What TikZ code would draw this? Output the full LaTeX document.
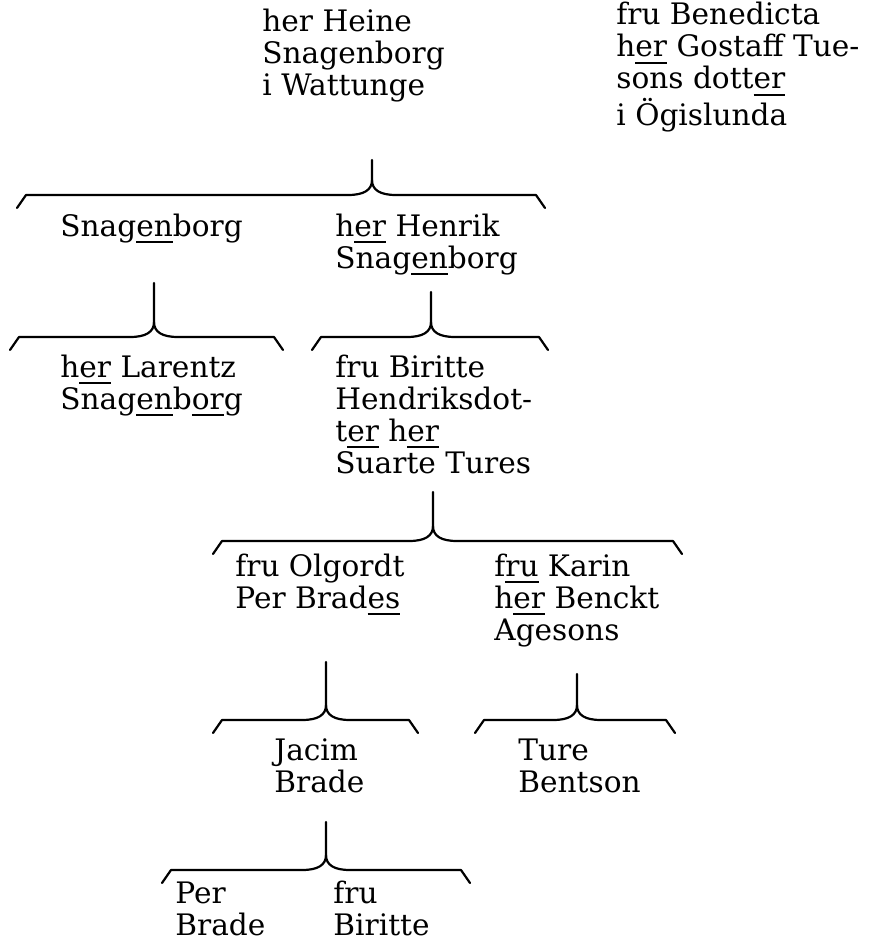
\documentclass[tikz,border=0pt]{standalone}
\usepackage{fontspec}
\setmainfont{DejaVu Serif}
\usepackage{tikz}
\usetikzlibrary{positioning,calc}

% underlined letters as in the typed original
\newsavebox{\undrbox}
\newcommand{\undr}[1]{\sbox{\undrbox}{#1}\rlap{\rule[-3.6pt]{\wd\undrbox}{1.1pt}}\usebox{\undrbox}}

% family brace: name, stem x, stem top, brace y, left end, right end
\newcommand{\kinbrace}[6]{%
  \coordinate (#1-top) at (#2,#3);
  \coordinate (#1-mid) at (#2,#4);
  \coordinate (#1-l) at (#5,#4);
  \coordinate (#1-r) at (#6,#4);
  \draw[kinline] (#1-top) -- ($(#1-mid)+(0,-15)$)
    .. controls ($(#1-mid)+(0,-5)$) and ($(#1-mid)+(-8,0)$) .. ($(#1-mid)+(-24,0)$)
    -- ($(#1-l)+(9,0)$) -- ($(#1-l)+(0,13)$);
  \draw[kinline] ($(#1-mid)+(0,-15)$)
    .. controls ($(#1-mid)+(0,-5)$) and ($(#1-mid)+(8,0)$) .. ($(#1-mid)+(24,0)$)
    -- ($(#1-r)+(-9,0)$) -- ($(#1-r)+(0,13)$);
}

% nodes are placed at the baseline of their last line
\tikzset{
  person/.style={anchor=base west, align=left, inner sep=0pt,
    font=\fontsize{14.8}{16}\selectfont},
  kinline/.style={line width=1.1pt, line join=round, line cap=round}
}

\begin{document}
\begin{tikzpicture}[x=0.5pt, y=-0.5pt]
        \useasboundingbox (0,0) rectangle (888,942);

        % Parents
        \node[person] (heine) at (262,95) {her Heine\\Snagenborg\\i Wattunge};
        \node[person] (benedicta) at (616,125)
          {fru Benedicta\\h\undr{er} Gostaff Tue-\\sons dott\undr{er}\\i Ögislunda};
        \kinbrace{heine}{372}{160}{195}{17}{545}

        % Children
        \node[person] (snagenborg) at (60,236) {Snag\undr{en}borg};
        \node[person] (henrik) at (335,268) {h\undr{er} Henrik\\Snag\undr{en}borg};
        \kinbrace{snagenborg}{154}{283}{337}{10}{283}
        \kinbrace{henrik}{431}{292}{337}{312}{548}

        % Grandchildren
        \node[person] (larentz) at (60,409) {h\undr{er} Larentz\\Snag\undr{en}b\undr{or}g};
        \node[person] (biritte) at (335,473)
          {fru Biritte\\Hendriksdot-\\t\undr{er} h\undr{er}\\Suarte Tures};
        \kinbrace{biritte}{433}{492}{541}{213}{682}

        \node[person] (olgordt) at (235,608) {fru Olgordt\\Per Brad\undr{es}};
        \node[person] (karin) at (494,640) {f\undr{ru} Karin\\h\undr{er} Benckt\\Agesons};
        \kinbrace{olgordt}{326}{662}{720}{213}{418}
        \kinbrace{karin}{577}{674}{720}{475}{675}

        \node[person] (jacim) at (274,792) {Jacim\\Brade};
        \node[person] (ture) at (518,792) {Ture\\Bentson};
        \kinbrace{jacim}{326}{822}{870}{162}{470}

        \node[person] (per) at (175,935) {Per\\Brade};
        \node[person] (fru) at (333,935) {fru\\Biritte};
      \end{tikzpicture}
\end{document}
